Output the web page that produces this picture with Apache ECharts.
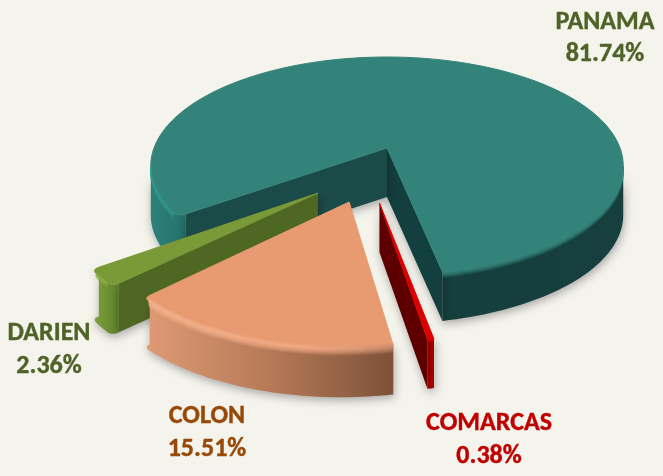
<!DOCTYPE html>
<html><head><meta charset="utf-8">
<style>html,body{margin:0;padding:0;background:#f4f3ec}#c{width:663px;height:476px}</style>
<script src="https://cdn.jsdelivr.net/npm/echarts@6/dist/echarts.min.js"></script>
</head><body><div id="c"></div>
<script>
const categories = ['PANAMA', 'DARIEN', 'COLON', 'COMARCAS'];
const values = [81.74, 2.36, 15.51, 0.38];
const percentLabels = ['81.74%', '2.36%', '15.51%', '0.38%'];

// layout of the tilted disc
const view = {cx: 387, cy: 148, rx: 233, ry: 106, k: 0.165, depth: 49, startDeg: 11.5};
const explode = [[0, 0], [-0.277, 0.397], [-0.15, 0.47], [-0.03, 0.478]];
const radius = [1, 0.97, 0.97, 0.93];
// corner rounding per slice: [degrees along arc, pixels along the cut] for each end
const corner = [[[0, 0], [2, 8]], [[1.8, 7], [1.8, 7]], [[1.5, 6], [0, 0]], [[0, 0], [0, 0]]];
const labelPos = [[605, 22, 54], [49, 333, 366], [207, 416, 449], [489, 423, 456]];
const labelColor = ['#4f6228', '#4f6228', '#984807', '#c00000'];

const G = echarts.graphic.LinearGradient;
const hGrad = (x0, x1, stops) => new G(x0, 0, x1, 0, stops.map(c => ({offset: c[0], color: c[1]})), true);
const looks = [
  {top: '#33837a', wall: hGrad(150, 623, [[0, '#2c8179'], [0.09, '#256f69'], [0.6, '#153f3e'], [1, '#163f3d']]),
   cutA: '#133f3e', cutB: '#1b4b48', bevel: hGrad(150, 623, [[0, '#2f978c'], [0.1, '#2f8f85'], [0.5, '#33837a'], [1, '#33837a']]), start: 0, bands: 6},
  {top: '#7a9a38', wall: hGrad(95, 125, [[0, '#7ca03a'], [1, '#587a27']]),
   cutA: '#4e6823', cutB: '#4e6823', bevel: '#8bab42', start: 0, bands: 5},
  {top: '#e89a70', wall: hGrad(145, 393, [[0, '#df9a74'], [0.5, '#b67a58'], [1, '#7e5239']]),
   cutA: '#8a5a40', cutB: '#8a5a40', bevel: hGrad(145, 393, [[0, '#f3b08a'], [0.65, '#f0a880'], [1, '#cf9070']]), start: -3, bands: 7},
  {top: '#d80000', wall: '#a80000', cutA: '#5e0000', cutB: '#5e0000', bevel: '#e00000', start: 0, bands: 2}
];

const total = values.reduce((a, b) => a + b, 0);
const DEG = Math.PI / 180;
function project(X, Z) {
  const s = 1 / (1 - view.k * Z);
  return [view.cx + view.rx * X * s, view.cy + view.ry * Z * s];
}
function sliceAngles(i) {
  let a0 = view.startDeg;
  for (let j = 0; j < i; j++) a0 += values[j] / total * 360;
  return [a0, a0 + values[i] / total * 360];
}
const down = (p, d) => [p[0], p[1] + d];
const sub = (u, v) => [u[0] - v[0], u[1] - v[1]];
const cross = (u, v) => u[0] * v[1] - u[1] * v[0];
const shadow = {shadowBlur: 10, shadowColor: 'rgba(0,0,0,0.32)', shadowOffsetY: 3, shadowOffsetX: 1};

function toward(p, q, px) {
  const v = sub(q, p), len = Math.hypot(v[0], v[1]) || 1;
  return [p[0] + v[0] / len * px, p[1] + v[1] / len * px];
}
function quad(p0, c, p1) {
  const out = [];
  for (let t = 0; t <= 8; t++) {
    const u = t / 8, w = 1 - u;
    out.push([w * w * p0[0] + 2 * w * u * c[0] + u * u * p1[0], w * w * p0[1] + 2 * w * u * c[1] + u * u * p1[1]]);
  }
  return out;
}
function splitRuns(points, flags) {
  const runs = [];
  let run = null;
  points.forEach((p, t) => {
    if (flags[t]) { if (!run) { run = []; runs.push(run); } run.push(p); } else run = null;
  });
  return runs;
}

function renderItem(params) {
  const i = params.dataIndex, [a0, a1] = sliceAngles(i), look = looks[i];
  const [ex, ez] = explode[i], r = radius[i];
  const at = a => project(ex + r * Math.sin(a * DEG), ez + r * Math.cos(a * DEG));
  const apex = project(ex, ez);
  const [c0, c1] = corner[i];
  const b0 = a0 + c0[0], b1 = a1 - c1[0];
  const n = Math.max(2, Math.ceil((b1 - b0) / 1.5));
  const isVis = a => Math.cos(a * DEG) > view.k - 0.02;
  const e0 = c0[1] ? toward(at(a0), apex, c0[1]) : at(a0);
  const e1 = c1[1] ? toward(at(a1), apex, c1[1]) : at(a1);
  const arcPts = [], arcVis = [];
  for (let t = 0; t <= n; t++) {
    const a = b0 + (b1 - b0) * t / n;
    arcPts.push(at(a));
    arcVis.push(isVis(a));
  }
  const head = c0[1] ? quad(e0, at(a0), at(b0)) : [];
  const tail = c1[1] ? quad(at(b1), at(a1), e1) : [];
  const outline = head.concat(arcPts, tail);
  const vis = head.map(() => isVis(a0)).concat(arcVis, tail.map(() => isVis(a1)));
  const kids = [];
  const d = view.depth;
  const inner = Math.min((a1 - a0) / 2, 10);
  const cutWall = (a, e, mid, fill) => {
    const edge = at(a), m = at(mid);
    if (cross(sub(edge, apex), sub(m, apex)) * cross(sub(edge, apex), [0, d]) < 0) {
      kids.push({type: 'polygon', shape: {points: [apex, e, down(e, d), down(apex, d)]},
        style: Object.assign({fill: fill}, shadow)});
    }
  };
  splitRuns(outline, vis).forEach(rn => {
    const poly = rn.concat(rn.slice().reverse().map(p => down(p, d)));
    kids.push({type: 'polygon', shape: {points: poly}, style: Object.assign({fill: look.wall}, shadow)});
  });
  cutWall(a0, e0, a0 + inner, look.cutA);
  cutWall(a1, e1, a1 - inner, look.cutB);
  kids.push({type: 'polygon', shape: {points: [apex].concat(outline)},
    style: {fill: look.top, stroke: look.top, lineWidth: 1, lineJoin: 'round'}});
  splitRuns(arcPts, arcVis).forEach(rn => {
    const s = look.start, m = look.bands;
    for (let b = s; b < m; b++) {
      const op = b < 0 ? 1 + b / (-s + 1) : 1 - b / m;
      kids.push({type: 'polyline', shape: {points: rn.map(p => down(p, b + 0.5))},
        style: {fill: null, stroke: look.bevel, lineWidth: 1.5, opacity: op}});
    }
  });
  return {type: 'group', children: kids};
}

const labels = [];
categories.forEach((name, i) => {
  const [x, y1, y2] = labelPos[i];
  [[name, y1], [percentLabels[i], y2]].forEach(([txt, y]) => labels.push({
    type: 'text', x: x, y: y,
    style: {text: txt, fill: labelColor[i], stroke: labelColor[i], lineWidth: 0.4,
      font: 'bold 26px Carlito, "Open Sans", sans-serif', align: 'center', verticalAlign: 'middle'}
  }));
});

const chart = echarts.init(document.getElementById('c'), null, {renderer: 'canvas'});
chart.setOption({
  backgroundColor: '#f4f3ec',
  animation: false,
  graphic: {elements: labels},
  series: [{
    type: 'custom', coordinateSystem: 'none', silent: true,
    data: values.map((v, i) => [i, v]),
    renderItem: renderItem
  }]
});
</script></body></html>
